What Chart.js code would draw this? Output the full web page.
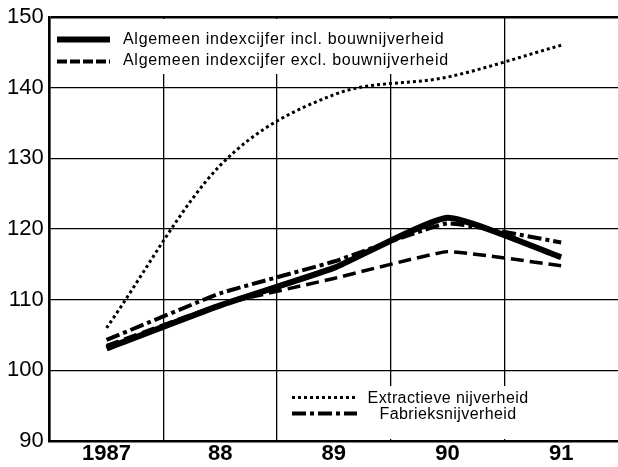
<!DOCTYPE html>
<html>
<head>
<meta charset="utf-8">
<script src="https://cdn.jsdelivr.net/npm/chart.js@4/dist/chart.umd.min.js"></script>
<style>
  html, body { margin: 0; padding: 0; background: #fff; }
  #wrap { width: 618px; height: 467px; }
</style>
</head>
<body>
<div id="wrap"><canvas id="c" width="618" height="467"></canvas></div>
<script>
const categories = ['1987', '88', '89', '90', '91'];
const inclBouw   = [103.1, 109.2, 114.5, 121.6, 116.0];
const exclBouw   = [103.5, 109.3, 113.0, 116.8, 114.8];
const extractief = [106.0, 129.0, 139.0, 141.5, 146.0];
const fabrieks   = [104.3, 110.9, 115.4, 120.8, 118.1];
const yMin = 90, yMax = 150, yStep = 10;
const labelIncl = 'Algemeen indexcijfer incl. bouwnijverheid';
const labelExcl = 'Algemeen indexcijfer excl. bouwnijverheid';
const labelExtr = 'Extractieve nijverheid';
const labelFabr = 'Fabrieksnijverheid';

const FONT = '"Liberation Sans", Arial, sans-serif';
const DOT = [3, 3];
const DASH = [13, 6];
const DASHDOT = [14, 4, 4, 4];

const legendPlugin = {
  id: 'boxLegend',
  beforeDatasetsDraw(chart) {
    const ctx = chart.ctx;
    const a = chart.chartArea;
    ctx.save();
    ctx.fillStyle = '#fff';
    ctx.fillRect(a.left + 2, a.top + 2, 398, 55);
    ctx.fillRect(284, 386, 262, a.bottom - 2 - 386);
    const sample = (x1, x2, y, w, dash) => {
      ctx.beginPath();
      ctx.lineWidth = w;
      ctx.strokeStyle = '#000';
      ctx.setLineDash(dash);
      ctx.lineCap = 'butt';
      ctx.moveTo(x1, y);
      ctx.lineTo(x2, y);
      ctx.stroke();
    };
    sample(57, 110, 39.5, 6, []);
    sample(57, 110, 61.5, 4, [10, 3]);
    sample(292, 357, 397.5, 3, DOT);
    sample(292, 357, 413.5, 4, DASHDOT);
    ctx.setLineDash([]);
    ctx.fillStyle = '#000';
    ctx.font = '16px ' + FONT;
    ctx.textBaseline = 'alphabetic';
    ctx.letterSpacing = '0.7px';
    ctx.textAlign = 'left';
    ctx.fillText(labelIncl, 123, 44);
    ctx.fillText(labelExcl, 123, 65);
    ctx.letterSpacing = '0.4px';
    ctx.textAlign = 'center';
    ctx.fillText(labelExtr, 448, 403);
    ctx.fillText(labelFabr, 448, 419);
    ctx.restore();
  }
};

new Chart(document.getElementById('c'), {
  type: 'line',
  data: {
    labels: categories,
    datasets: [
      { label: labelIncl, data: inclBouw, borderColor: '#000', borderWidth: 6, tension: 0.15 },
      { label: labelExcl, data: exclBouw, borderColor: '#000', borderWidth: 3.5, borderDash: DASH, tension: 0.1 },
      { label: labelFabr, data: fabrieks, borderColor: '#000', borderWidth: 4, borderDash: DASHDOT, tension: 0.1 },
      { label: labelExtr, data: extractief, borderColor: '#000', borderWidth: 3, borderDash: DOT, cubicInterpolationMode: 'monotone' }
    ]
  },
  options: {
    responsive: false,
    animation: false,
    devicePixelRatio: 1,
    layout: { padding: { top: 10, left: 1, right: 0, bottom: 0 } },
    elements: { point: { radius: 0 }, line: { borderCapStyle: 'butt', fill: false } },
    plugins: { legend: { display: false }, tooltip: { enabled: false } },
    scales: {
      x: {
        type: 'category',
        offset: true,
        grid: { offset: true, color: (c) => (c.type === 'tick' ? '#000' : 'rgba(0,0,0,0)'), lineWidth: 1.3, drawTicks: false },
        border: { color: '#000', width: 2.5 },
        ticks: { color: '#000', padding: 1, font: { family: FONT, size: 22, weight: 'bold', lineHeight: 1.09 } }
      },
      y: {
        min: yMin, max: yMax,
        grid: { color: '#000', lineWidth: (c) => (c.tick && c.tick.value === yMax ? 2.5 : 1.3), drawTicks: false },
        border: { color: '#000', width: 2.5 },
        ticks: { stepSize: yStep, color: '#000', padding: 6, font: { family: FONT, size: 22, lineHeight: 1 } }
      }
    }
  },
  plugins: [legendPlugin]
});
</script>
</body>
</html>
